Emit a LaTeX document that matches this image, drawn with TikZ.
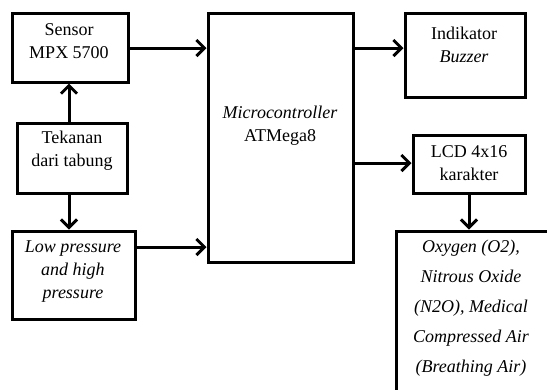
\documentclass[tikz,border=0pt]{standalone}
\usepackage{fontspec}
\setmainfont{Liberation Serif}
\usetikzlibrary{arrows.meta}
\begin{document}
\begin{tikzpicture}[x=1pt,y=-1pt,
  box/.style={draw,line width=3pt,inner sep=0pt},
  txt/.style={inner sep=0pt,align=center,font=\fontsize{18}{23}\selectfont},
  conn/.style={line width=3pt,-{Straight Barb[length=8pt,width=16pt,line width=3pt]}}]
\useasboundingbox (0,0) rectangle (547,389);
\begin{scope}
\clip (0,0) rectangle (547,389);
% boxes
\node[box,minimum width=116pt,minimum height=69pt] (sensor) at (70,47.5) {};
\node[box,minimum width=110pt,minimum height=70pt] (tekanan) at (72,158) {};
\node[box,minimum width=123pt,minimum height=88pt] (low) at (73.5,275) {};
\node[box,minimum width=145pt,minimum height=249pt] (micro) at (280.5,137.5) {};
\node[box,minimum width=120pt,minimum height=84pt] (indikator) at (465,55) {};
\node[box,minimum width=112pt,minimum height=58pt] (lcd) at (469,164) {};
\node[box,minimum width=170pt,minimum height=200pt] (oxy) at (481,331) {};
% texts
\node[txt] (tsensor) at (69,41) {Sensor\\MPX 5700};
\node[txt] (ttekanan) at (72,151) {Tekanan\\dari tabung};
\node[txt] (tlow) at (73,272) {\itshape Low pressure\\\itshape and high\\\itshape pressure};
\node[txt] (tmicro) at (280,126) {\itshape Microcontroller\\ATMega8};
\node[txt] (tind) at (464,45) {Indikator\\\itshape Buzzer};
\node[txt] (tlcd) at (469,163) {LCD 4x16\\karakter};
\node[txt,font=\fontsize{18}{30}\selectfont\itshape] (toxy) at (471,308) {Oxygen (O2),\\Nitrous Oxide\\(N2O), Medical\\Compressed Air\\(Breathing Air)};
\end{scope}
% connectors
\coordinate (s1) at (sensor.east |- 0,48);
\coordinate (m1) at (micro.west |- 0,48);
\coordinate (m2) at (micro.east |- 0,48);
\coordinate (i2) at (indikator.west |- 0,48);
\coordinate (m3) at (micro.east |- 0,163);
\coordinate (l3) at (lcd.west |- 0,163);
\coordinate (lo4) at (low.east |- 0,247);
\coordinate (m4) at (micro.west |- 0,247);
\coordinate (t5) at (tekanan.north -| 69,0);
\coordinate (s5) at (sensor.south -| 69,0);
\coordinate (t6) at (tekanan.south -| 69,0);
\coordinate (lo6) at (low.north -| 69,0);
\draw[conn] (s1) -- (m1);
\draw[conn] (m2) -- (i2);
\draw[conn] (m3) -- (l3);
\draw[conn] (lo4) -- (m4);
\draw[conn] (t5) -- (s5);
\draw[conn] (t6) -- (lo6);
\draw[conn] (lcd.south) -- (lcd.south |- oxy.north);
\end{tikzpicture}
\end{document}
